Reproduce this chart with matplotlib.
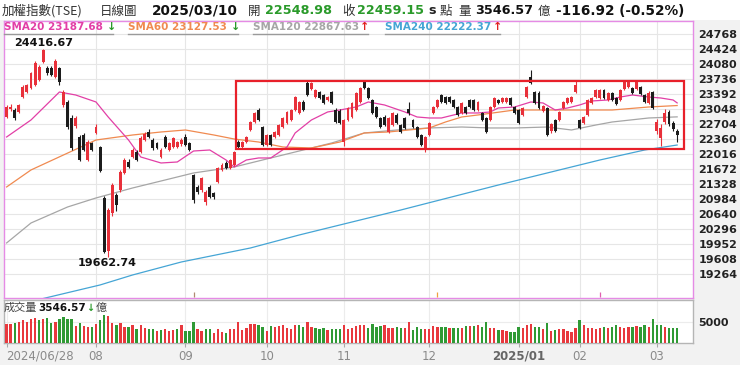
import numpy as np
import matplotlib.pyplot as plt
from matplotlib.patches import Rectangle
from matplotlib.lines import Line2D

plt.rcParams['font.family'] = ['DejaVu Sans', 'Noto Sans CJK TC']
CJK = ['Noto Sans CJK TC', 'DejaVu Sans']

# 日K資料 (2024/06/28 ~ 2025/03/10), 由圖讀估
opens = [22870, 23040, 23030, 22990, 23320, 23440, 23530, 23600, 23710, 24130,
         23990, 23990, 23780, 23990, 23140, 23210, 22840, 22650, 22410, 22450,
         21880, 22270, 22500, 22180, 21000, 19800, 20660, 21080, 21190, 21580,
         21830, 21950, 22060, 22060, 22340, 22520, 22340, 22270, 21950, 22410,
         22110, 22180, 22180, 22250, 22410, 22270, 21540, 21260, 21190, 20920,
         21260, 21120, 21380, 21650, 21810, 21700, 21770, 22290, 22180, 22290,
         22570, 22750, 23020, 22640, 22220, 22450, 22400, 22450, 22640, 22730,
         22800, 23030, 22960, 23210, 23640, 23500, 23320, 23440, 23370, 23250,
         23440, 23025, 23000, 22290, 22800, 22870, 23030, 23200, 23670, 23530,
         23250, 23090, 22840, 22870, 22520, 22680, 22910, 22680, 22840, 23050,
         22800, 22640, 22450, 22110, 22450, 22960, 23100, 23370, 23320, 23320,
         23250, 23090, 22960, 23100, 23250, 23250, 23030, 22960, 22840, 22800,
         23090, 23250, 23210, 23210, 23300, 23090, 23025, 22910, 23320, 23780,
         23440, 23420, 23000, 23070, 22550, 22800, 22800, 23070, 23190, 23210,
         23440, 22800, 22730, 22910, 23190, 23320, 23300, 23480, 23250, 23410,
         23300, 23250, 23510, 23550, 23530, 23500, 23550, 23370, 23180, 23440,
         22540, 22380, 22750, 22980, 22730, 22548.98]
highs = [23150, 23160, 23060, 23170, 23600, 23630, 23900, 24150, 24050, 24416.67,
         24030, 24040, 24200, 24020, 23480, 23250, 22900, 22880, 22450, 22500,
         22330, 22300, 22700, 22200, 21050, 20780, 21350, 21120, 21650, 21920,
         21900, 22150, 22100, 22420, 22520, 22600, 22380, 22300, 22150, 22450,
         22300, 22400, 22320, 22380, 22480, 22300, 21560, 21300, 21500, 21180,
         21300, 21150, 21720, 21800, 21850, 21900, 22080, 22330, 22310, 22420,
         22770, 22980, 23060, 22660, 22470, 22480, 22540, 22700, 22860, 23000,
         23050, 23340, 23230, 23250, 23680, 23660, 23500, 23470, 23400, 23340,
         23470, 23060, 23050, 22820, 23090, 23210, 23440, 23550, 23690, 23560,
         23280, 23120, 22870, 22900, 22860, 22980, 22950, 22710, 22870, 23200,
         22830, 22660, 22480, 22430, 22750, 23110, 23270, 23400, 23350, 23340,
         23280, 23110, 23210, 23120, 23280, 23280, 23230, 22990, 22870, 23110,
         23320, 23280, 23320, 23330, 23330, 23110, 23050, 23090, 23570, 23940,
         23470, 23450, 23140, 23100, 22720, 22830, 23000, 23230, 23320, 23340,
         23700, 22830, 22890, 23270, 23320, 23500, 23500, 23500, 23430, 23440,
         23330, 23500, 23700, 23700, 23560, 23690, 23580, 23400, 23450, 23470,
         22820, 22700, 23050, 23020, 22780, 22600]
lows = [22850, 23000, 22800, 22960, 23300, 23420, 23500, 23580, 23690, 24100,
        23830, 23800, 23760, 23600, 23100, 22600, 22100, 22620, 21850, 22080,
        21850, 22080, 22480, 21600, 19740, 19662.74, 20600, 20700, 21150, 21550,
        21700, 21930, 21850, 22040, 22320, 22380, 22100, 22120, 21920, 22150,
        22080, 22150, 22150, 22200, 22200, 22080, 20900, 21100, 21150, 20850,
        21000, 20980, 21350, 21620, 21680, 21680, 21750, 22150, 22150, 22270,
        22550, 22730, 22780, 22200, 22200, 22200, 22380, 22430, 22620, 22700,
        22780, 23000, 22940, 23000, 23350, 23480, 23300, 23280, 23170, 23230,
        23170, 22720, 22700, 22200, 22780, 22850, 23000, 23180, 23510, 23280,
        22940, 22850, 22620, 22660, 22500, 22660, 22710, 22500, 22590, 22900,
        22620, 22390, 22200, 22060, 22430, 22940, 23080, 23190, 23170, 23190,
        23080, 22890, 22940, 22940, 23080, 23010, 23010, 22780, 22500, 22780,
        23070, 23170, 23190, 23190, 23120, 22940, 22710, 22890, 23300, 23630,
        23170, 23050, 22980, 22430, 22500, 22520, 22780, 23050, 23170, 23190,
        23420, 22590, 22710, 22890, 23170, 23300, 23280, 23280, 23230, 23230,
        23130, 23230, 23490, 23530, 23390, 23480, 23380, 23190, 23160, 23050,
        22480, 22200, 22700, 22650, 22550, 22300]
closes = [23090, 23100, 22850, 23140, 23550, 23600, 23870, 24100, 24010, 24400,
          23870, 23830, 24150, 23660, 23440, 22640, 22150, 22840, 21880, 22110,
          22290, 22110, 22640, 21630, 19780, 20730, 21300, 20850, 21600, 21880,
          21720, 22110, 21880, 22380, 22480, 22410, 22150, 22150, 22110, 22180,
          22270, 22380, 22290, 22340, 22230, 22110, 20960, 21150, 21470, 21150,
          21030, 21030, 21700, 21770, 21700, 21880, 22060, 22180, 22290, 22400,
          22750, 22960, 22800, 22220, 22450, 22220, 22520, 22680, 22840, 22980,
          23030, 23320, 23210, 23030, 23370, 23640, 23480, 23300, 23190, 23320,
          23190, 22750, 22730, 22800, 23070, 23190, 23420, 23530, 23530, 23300,
          22960, 22870, 22640, 22680, 22840, 22960, 22730, 22520, 22610, 22950,
          22640, 22410, 22220, 22410, 22730, 23090, 23250, 23210, 23190, 23210,
          23100, 22910, 23190, 22960, 23100, 23030, 23210, 22800, 22520, 23090,
          23300, 23190, 23300, 23300, 23140, 22960, 22730, 23070, 23550, 23650,
          23190, 23070, 23120, 22450, 22700, 22540, 22980, 23210, 23300, 23320,
          23600, 22610, 22870, 23250, 23300, 23480, 23480, 23300, 23410, 23250,
          23160, 23480, 23670, 23670, 23410, 23670, 23400, 23210, 23420, 23070,
          22760, 22610, 22960, 22700, 22580, 22459.15]
volumes = [4440, 4440, 4840, 5080, 5470, 5080, 5630, 6030, 5470, 5790,
           6030, 4840, 4920, 5790, 6110, 5630, 5630, 4050, 4840, 4050,
           3890, 3890, 4440, 5470, 6660, 6500, 4680, 4280, 4840, 3890,
           3730, 4200, 3250, 4200, 3490, 3410, 3250, 2940, 3090, 3410,
           2940, 3090, 3410, 4280, 2940, 2940, 4920, 3250, 2940, 3250,
           3410, 2460, 3250, 2620, 2460, 3410, 3410, 4920, 3090, 3650,
           4520, 4520, 4360, 3890, 2940, 4130, 3890, 4130, 4280, 3650,
           3330, 4280, 4280, 3890, 5000, 3890, 3650, 3410, 3650, 3090,
           3410, 3410, 3410, 4200, 3250, 3490, 4050, 4280, 4280, 3650,
           4440, 3890, 4050, 4200, 3490, 3490, 3890, 3650, 3490, 4920,
           3090, 3730, 3330, 3250, 3250, 4050, 3890, 3890, 3730, 3650,
           3490, 3490, 3650, 4130, 4130, 4130, 4200, 3890, 4920, 3650,
           3650, 3090, 3090, 2940, 2700, 2700, 3730, 3490, 4280, 4440,
           3890, 3890, 3330, 4840, 2860, 3090, 3410, 3250, 2860, 2700,
           3490, 5470, 4280, 3490, 3490, 3410, 3490, 3730, 3650, 3890,
           4200, 3730, 3490, 3890, 3890, 4130, 3890, 4200, 3890, 5630,
           4360, 4200, 3730, 3650, 3650, 3546.57]

# 均線 (取樣點: K棒序號, 數值)
sma20_idx = [0, 6, 13, 17, 22, 25, 30, 33, 38, 42, 46, 50, 54, 56, 59, 62, 65, 69, 71,
             75, 79, 82, 86, 89, 93, 98, 101, 104, 107, 112, 116, 119, 121, 125, 129,
             132, 135, 138, 141, 144, 148, 151, 154, 158, 161, 164, 165]
sma20_val = [22406, 22796, 23438, 23369, 23209, 22865, 22337, 21948, 21810, 21833, 22085,
             22108, 21879, 21718, 21879, 21925, 21925, 22177, 22498, 22796, 22980, 23025,
             23094, 23209, 23140, 22980, 22865, 22842, 22842, 22957, 22957, 22980, 23071,
             23094, 23209, 23186, 23025, 23071, 23140, 23232, 23255, 23323, 23369, 23323,
             23300, 23255, 23187.68]
sma60_idx = [0, 6, 14, 22, 31, 38, 44, 51, 56, 62, 68, 75, 82, 88, 94, 99, 104, 108, 112,
             116, 125, 133, 141, 149, 158, 165]
sma60_val = [21260, 21650, 21994, 22337, 22452, 22521, 22567, 22452, 22360, 22291, 22177,
             22154, 22291, 22498, 22521, 22567, 22613, 22750, 22865, 22911, 23025, 23025,
             23025, 23025, 23094, 23127.53]
sma120_idx = [0, 6, 15, 22, 31, 39, 46, 56, 63, 71, 80, 88, 96, 104, 112, 119, 125, 133,
              139, 145, 149, 158, 165]
sma120_val = [19976, 20434, 20801, 21008, 21237, 21420, 21581, 21718, 21879, 22062, 22269,
              22498, 22567, 22613, 22635, 22613, 22613, 22635, 22567, 22681, 22750, 22842,
              22867.63]
sma240_idx = [8, 23, 31, 43, 60, 72, 97, 121, 146, 157, 165]
sma240_val = [18680, 19013, 19242, 19540, 19861, 20159, 20732, 21305, 21879, 22108, 22222.37]

price_ticks = [19264 + 344 * k for k in range(17)]
tick_idx = [0, 22, 44, 64, 83, 104, 126, 141, 160]
tick_lbl = ['2024/06/28', '08', '09', '10', '11', '12', '2025/01', '02', '03']
event_idx = [46, 106, 146]
event_col = ['#b08a70', '#f0a040', '#e060b0']

# 箱型區間
box_x0, box_x1 = 56.4, 166.6
box_lo, box_hi = 22131, 23690

UP, DN = '#e8303a', '#1c1c1c'
VUP, VDN = '#e8383d', '#2f9a34'
C20, C60, C120, C240 = '#e23fa6', '#f08a50', '#a6a6a6', '#45a5d5'
GREEN = '#2a9a2a'

W, H = 740, 365
fig = plt.figure(figsize=(W / 100, H / 100), dpi=100, facecolor='#f2f2f2')
fig.patches.append(Rectangle((0, 1 - 20 / H), 1, 20 / H, transform=fig.transFigure,
                             facecolor='white', edgecolor='none', zorder=0))


def P(x, y):
    return x / W, 1 - y / H


ax = fig.add_axes([4 / W, 1 - 298 / H, 689 / W, 277 / H])
axv = fig.add_axes([4 / W, 1 - 343 / H, 689 / W, 43 / H])

x = np.arange(len(closes))
o = np.array(opens); c = np.array(closes)
hi = np.array(highs); lo = np.array(lows)
up = c >= o
cols = np.where(up, UP, DN)

ax.vlines(x, lo, hi, colors=cols, lw=0.8, zorder=3)
body = np.maximum(np.abs(c - o), 12)
ax.bar(x, body, bottom=np.minimum(o, c), width=0.72, color=cols, zorder=4)

ax.plot(sma240_idx, sma240_val, color=C240, lw=0.9, zorder=2)
ax.plot(sma120_idx, sma120_val, color=C120, lw=0.9, zorder=2)
ax.plot(sma60_idx, sma60_val, color=C60, lw=0.9, zorder=2)
ax.plot(sma20_idx, sma20_val, color=C20, lw=0.9, zorder=2)

ax.add_patch(Rectangle((box_x0, box_lo), box_x1 - box_x0, box_hi - box_lo,
                       fill=False, edgecolor='#e8202a', lw=1.6, zorder=6))

for i, col in zip(event_idx, event_col):
    ax.vlines(i, 18740, 18860, colors=col, lw=0.9, zorder=5)

ymin, ymax = 18714, 25066
ax.set_ylim(ymin, ymax)
ax.set_xlim(-0.64, 168.9)
ax.yaxis.tick_right()
ax.set_yticks(price_ticks)
ax.tick_params(axis='y', length=0, pad=4, labelsize=8, labelcolor='#222')
for t in ax.get_yticklabels():
    t.set_fontweight('bold')
ax.set_xticks(tick_idx[1:])
ax.tick_params(axis='x', length=0, labelbottom=False)
ax.grid(True, color='#e6e6e6', lw=0.8)
ax.set_axisbelow(True)
for s in ax.spines.values():
    s.set_color('#e58be5')
    s.set_linewidth(1.0)

# 高低點標示
imax = int(np.argmax(hi)); imin = int(np.argmin(lo))
ax.annotate(f'{hi[imax]:.2f}', (imax, hi[imax]), xytext=(0, 1), textcoords='offset points',
            ha='center', va='bottom', fontsize=8, fontweight='bold', color='#111')
ax.annotate(f'{lo[imin]:.2f}', (imin - 0.3, lo[imin]), xytext=(0, -1), textcoords='offset points',
            ha='center', va='top', fontsize=8, fontweight='bold', color='#111')

# 成交量
vup = np.r_[True, c[1:] >= c[:-1]]
axv.bar(x, volumes, width=0.58, color=np.where(vup, VUP, VDN), zorder=3)
axv.set_xlim(-0.64, 168.9)
axv.set_ylim(0, 10230)
axv.yaxis.tick_right()
axv.set_yticks([5000])
axv.tick_params(axis='y', length=0, pad=4, labelsize=8, labelcolor='#222')
for t in axv.get_yticklabels():
    t.set_fontweight('bold')
axv.set_xticks(tick_idx, labels=tick_lbl)
axv.tick_params(axis='x', length=3, color='#aaaaaa', labelsize=8.5, labelcolor='#8a8a8a', pad=2)
xl = axv.get_xticklabels()
xl[0].set_ha('left')
xl[6].set_fontweight('bold')
xl[6].set_color('#666666')
axv.grid(True, color='#ececec', lw=0.8)
axv.set_axisbelow(True)
for s in axv.spines.values():
    s.set_color('#b5b5b5')
    s.set_linewidth(1.0)

# 標題列
ty = 11
NUM = 9.2
fig.text(*P(2, ty), '加權指數(TSE)', family=CJK, fontsize=9, color='#333', va='center')
fig.text(*P(100, ty), '日線圖', family=CJK, fontsize=9, color='#333', va='center')
fig.text(*P(152, ty), '2025/03/10', fontsize=9.8, fontweight='bold', color='#111', va='center')
fig.text(*P(248, ty), '開', family=CJK, fontsize=9, color='#333', va='center')
fig.text(*P(265, ty), '22548.98', fontsize=NUM, fontweight='bold', color=GREEN, va='center')
fig.text(*P(342, ty), '收', family=CJK, fontsize=9, color='#333', va='center')
fig.text(*P(357, ty), '22459.15', fontsize=NUM, fontweight='bold', color=GREEN, va='center')
fig.text(*P(428, ty), 's', fontsize=NUM, fontweight='bold', color='#222', va='center')
fig.text(*P(440, ty), '點', family=CJK, fontsize=9, color='#333', va='center')
fig.text(*P(458, ty), '量', family=CJK, fontsize=9, color='#333', va='center')
fig.text(*P(475, ty), '3546.57', fontsize=NUM, fontweight='bold', color='#111', va='center')
fig.text(*P(538, ty), '億', family=CJK, fontsize=9, color='#333', va='center')
fig.text(*P(556, ty), '-116.92 (-0.52%)', fontsize=9.8, fontweight='bold', color='#111', va='center')

# 均線圖例
ly = 27
legend = [(4, 'SMA20 23187.68', C20, 107, '↓', GREEN, 113),
          (128, 'SMA60 23127.53', C60, 231, '↓', GREEN, 238),
          (253, 'SMA120 22867.63', C120, 360, '↑', '#e02020', 368),
          (385, 'SMA240 22222.37', C240, 493, '↑', '#e02020', 500)]
for x0, txt, col, xa, arr, acol, xe in legend:
    fig.text(*P(x0, ly), txt, fontsize=7.5, fontweight='bold', color=col, va='center')
    fig.text(*P(xa, ly), arr, fontsize=8, fontweight='bold', color=acol, va='center')
    fig.add_artist(Line2D([x0 / W, xe / W], [1 - 34 / H] * 2, color='#9a9a9a', lw=1.0))

# 成交量標籤
vy = 308
fig.text(*P(4, vy), '成交量', family=CJK, fontsize=8, color='#444', va='center')
fig.text(*P(38, vy), '3546.57', fontsize=7.5, fontweight='bold', color='#111', va='center')
fig.text(*P(86, vy), '↓', fontsize=7, fontweight='bold', color=GREEN, va='center')
fig.text(*P(95.5, vy), '億', family=CJK, fontsize=8, color='#444', va='center')

fig.savefig('out.png', dpi=100, facecolor=fig.get_facecolor())
